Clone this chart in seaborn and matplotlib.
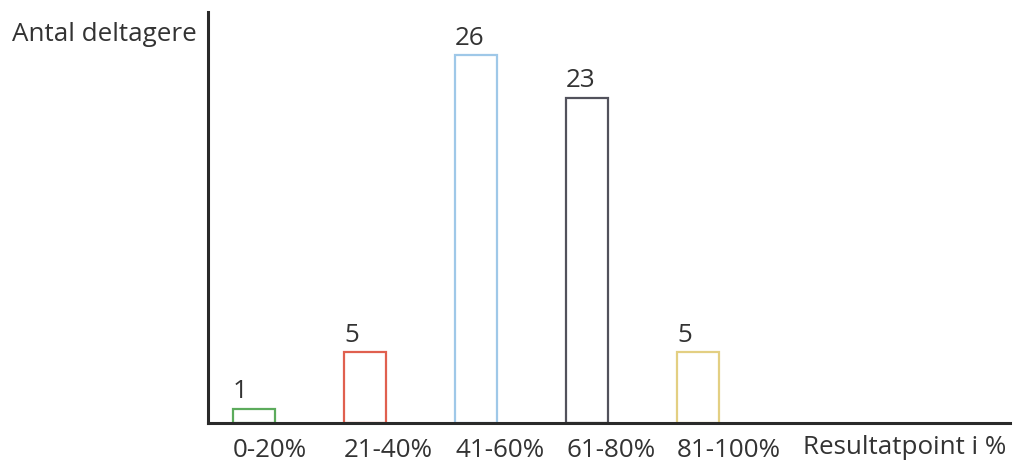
import matplotlib
matplotlib.use("Agg")
import matplotlib.pyplot as plt
import seaborn as sns
import pandas as pd

categories = ["0-20%", "21-40%", "41-60%", "61-80%", "81-100%"]
values = [1, 5, 26, 23, 5]
edge_colors = ["#5cab5c", "#e0604f", "#9fc8e8", "#52525c", "#e3cf82"]
y_label = "Antal deltagere"
x_label = "Resultatpoint i %"

sns.set_style("white")
plt.rcParams["font.family"] = ["Open Sans", "DejaVu Sans"]

W, H = 1016, 461
fig = plt.figure(figsize=(W / 100, H / 100), dpi=100)
ax = fig.add_axes([208 / W, 38 / H, 802 / W, 411 / H])

df = pd.DataFrame({"cat": categories, "val": values})
bw = 0.378
sns.barplot(data=df, x="cat", y="val", ax=ax, width=bw, color="white", saturation=1)
for p, c in zip(ax.patches, edge_colors):
    p.set_facecolor("white")
    p.set_edgecolor(c)
    p.set_linewidth(1.6)

ax.set_xlim(-0.414, 6.81)
ax.set_ylim(0, 29.05)

text_color = "#333333"
fs = 18.7
for i, v in enumerate(values):
    ax.annotate(str(v), (i - bw / 2, v), xytext=(0, 7.5), textcoords="offset points",
                ha="left", va="baseline", fontsize=fs, color=text_color)

ax.set_xticks([i - bw / 2 for i in range(len(categories))])
ax.set_xticklabels(categories, ha="left", fontsize=fs, color=text_color)
ax.tick_params(axis="x", length=0, pad=10.5)
ax.set_yticks([])
ax.set_xlabel("")
ax.set_ylabel("")

for s in ["top", "right"]:
    ax.spines[s].set_visible(False)
for s in ["left", "bottom"]:
    ax.spines[s].set_linewidth(2.2)
    ax.spines[s].set_color("#2a2a2a")

fig.text(803 / W, 1 - 454 / H, x_label, ha="left", va="baseline", fontsize=fs, color=text_color)
fig.text(12 / W, 1 - 41 / H, y_label, ha="left", va="baseline", fontsize=fs, color=text_color)

fig.savefig("out.png", dpi=100)
